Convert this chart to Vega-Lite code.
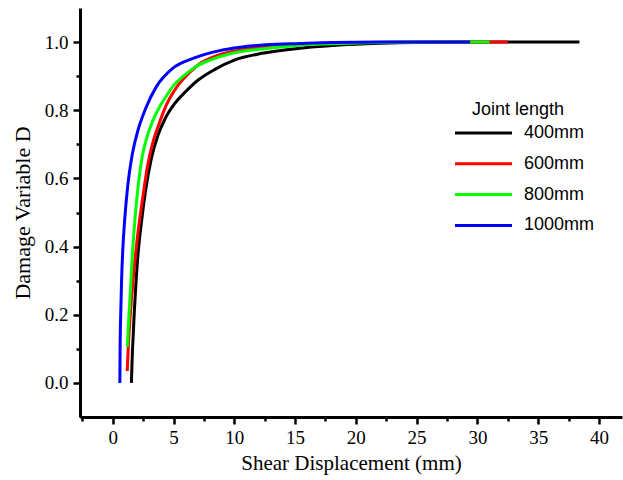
{
  "$schema": "https://vega.github.io/schema/vega-lite/v6.json",
  "width": 542,
  "height": 409,
  "autosize": "none",
  "padding": {"left": 80, "top": 8, "right": 1, "bottom": 63},
  "config": {
    "view": {"stroke": null},
    "font": "Liberation Serif",
    "axis": {
      "domainColor": "#000000", "domainWidth": 3,
      "tickColor": "#000000", "tickWidth": 2.5,
      "labelFont": "Liberation Serif", "labelFontSize": 19, "labelColor": "#000000",
      "titleFont": "Liberation Serif", "titleFontSize": 21, "titleFontWeight": "normal", "titleColor": "#000000",
      "grid": false
    }
  },
  "data": {"values": [
    {"s": "400mm", "x": 1.53, "d": 0},
    {"s": "400mm", "x": 1.60, "d": 0.08},
    {"s": "400mm", "x": 1.68, "d": 0.14},
    {"s": "400mm", "x": 1.77, "d": 0.21},
    {"s": "400mm", "x": 1.90, "d": 0.29},
    {"s": "400mm", "x": 2.08, "d": 0.38},
    {"s": "400mm", "x": 2.35, "d": 0.47},
    {"s": "400mm", "x": 2.70, "d": 0.565},
    {"s": "400mm", "x": 3.15, "d": 0.655},
    {"s": "400mm", "x": 3.70, "d": 0.725},
    {"s": "400mm", "x": 4.30, "d": 0.775},
    {"s": "400mm", "x": 5.10, "d": 0.82},
    {"s": "400mm", "x": 6.00, "d": 0.855},
    {"s": "400mm", "x": 7.00, "d": 0.888},
    {"s": "400mm", "x": 8.40, "d": 0.92},
    {"s": "400mm", "x": 10.0, "d": 0.947},
    {"s": "400mm", "x": 12.3, "d": 0.967},
    {"s": "400mm", "x": 15.4, "d": 0.982},
    {"s": "400mm", "x": 18.1, "d": 0.99},
    {"s": "400mm", "x": 20.8, "d": 0.995},
    {"s": "400mm", "x": 23.6, "d": 0.998},
    {"s": "400mm", "x": 27.0, "d": 0.9995},
    {"s": "400mm", "x": 30.0, "d": 1.0},
    {"s": "400mm", "x": 38.4, "d": 1.0},
    {"s": "600mm", "x": 1.19, "d": 0.035},
    {"s": "600mm", "x": 1.24, "d": 0.08},
    {"s": "600mm", "x": 1.31, "d": 0.13},
    {"s": "600mm", "x": 1.40, "d": 0.18},
    {"s": "600mm", "x": 1.52, "d": 0.24},
    {"s": "600mm", "x": 1.66, "d": 0.30},
    {"s": "600mm", "x": 1.85, "d": 0.37},
    {"s": "600mm", "x": 2.10, "d": 0.45},
    {"s": "600mm", "x": 2.45, "d": 0.54},
    {"s": "600mm", "x": 2.85, "d": 0.635},
    {"s": "600mm", "x": 3.25, "d": 0.70},
    {"s": "600mm", "x": 3.80, "d": 0.76},
    {"s": "600mm", "x": 4.40, "d": 0.815},
    {"s": "600mm", "x": 5.30, "d": 0.87},
    {"s": "600mm", "x": 6.30, "d": 0.91},
    {"s": "600mm", "x": 7.10, "d": 0.935},
    {"s": "600mm", "x": 8.80, "d": 0.963},
    {"s": "600mm", "x": 10.5, "d": 0.977},
    {"s": "600mm", "x": 12.6, "d": 0.987},
    {"s": "600mm", "x": 15.4, "d": 0.993},
    {"s": "600mm", "x": 18.1, "d": 0.997},
    {"s": "600mm", "x": 21.0, "d": 0.999},
    {"s": "600mm", "x": 25.0, "d": 1.0},
    {"s": "600mm", "x": 32.5, "d": 1.0},
    {"s": "800mm", "x": 1.20, "d": 0.105},
    {"s": "800mm", "x": 1.27, "d": 0.16},
    {"s": "800mm", "x": 1.35, "d": 0.21},
    {"s": "800mm", "x": 1.46, "d": 0.28},
    {"s": "800mm", "x": 1.60, "d": 0.37},
    {"s": "800mm", "x": 1.80, "d": 0.47},
    {"s": "800mm", "x": 2.06, "d": 0.57},
    {"s": "800mm", "x": 2.40, "d": 0.66},
    {"s": "800mm", "x": 2.80, "d": 0.72},
    {"s": "800mm", "x": 3.25, "d": 0.765},
    {"s": "800mm", "x": 3.85, "d": 0.81},
    {"s": "800mm", "x": 4.20, "d": 0.83},
    {"s": "800mm", "x": 5.00, "d": 0.873},
    {"s": "800mm", "x": 5.80, "d": 0.90},
    {"s": "800mm", "x": 6.70, "d": 0.925},
    {"s": "800mm", "x": 8.00, "d": 0.947},
    {"s": "800mm", "x": 9.90, "d": 0.968},
    {"s": "800mm", "x": 12.3, "d": 0.98},
    {"s": "800mm", "x": 15.4, "d": 0.991},
    {"s": "800mm", "x": 18.1, "d": 0.995},
    {"s": "800mm", "x": 20.8, "d": 0.998},
    {"s": "800mm", "x": 24.0, "d": 0.9995},
    {"s": "800mm", "x": 27.0, "d": 1.0},
    {"s": "800mm", "x": 31.0, "d": 1.0},
    {"s": "1000mm", "x": 0.58, "d": 0},
    {"s": "1000mm", "x": 0.60, "d": 0.10},
    {"s": "1000mm", "x": 0.65, "d": 0.20},
    {"s": "1000mm", "x": 0.72, "d": 0.30},
    {"s": "1000mm", "x": 0.82, "d": 0.39},
    {"s": "1000mm", "x": 0.98, "d": 0.48},
    {"s": "1000mm", "x": 1.22, "d": 0.575},
    {"s": "1000mm", "x": 1.60, "d": 0.67},
    {"s": "1000mm", "x": 2.10, "d": 0.745},
    {"s": "1000mm", "x": 2.70, "d": 0.805},
    {"s": "1000mm", "x": 3.60, "d": 0.87},
    {"s": "1000mm", "x": 4.90, "d": 0.922},
    {"s": "1000mm", "x": 6.60, "d": 0.952},
    {"s": "1000mm", "x": 8.80, "d": 0.975},
    {"s": "1000mm", "x": 10.5, "d": 0.985},
    {"s": "1000mm", "x": 12.6, "d": 0.992},
    {"s": "1000mm", "x": 15.4, "d": 0.996},
    {"s": "1000mm", "x": 18.1, "d": 0.999},
    {"s": "1000mm", "x": 22.0, "d": 1.0},
    {"s": "1000mm", "x": 29.4, "d": 1.0}
  ]},
  "layer": [
    {
      "mark": {"type": "line", "opacity": 0},
      "encoding": {
        "x": {"field": "x", "type": "quantitative",
          "scale": {"domain": [-2.7, 41.9], "nice": false, "zero": false},
          "axis": {"orient": "bottom", "values": [-2.5, 2.5, 7.5, 12.5, 17.5, 22.5, 27.5, 32.5, 37.5], "labels": false, "domain": false, "tickSize": 4, "title": null}},
        "y": {"field": "d", "type": "quantitative",
          "scale": {"domain": [-0.1, 1.1], "nice": false, "zero": false},
          "axis": {"orient": "left", "values": [0.1, 0.3, 0.5, 0.7, 0.9], "labels": false, "domain": false, "tickSize": 4, "title": null}}
      }
    },
    {
      "mark": {"type": "line", "strokeWidth": 3, "interpolate": "monotone"},
      "encoding": {
        "x": {"field": "x", "type": "quantitative",
          "scale": {"domain": [-2.7, 41.9], "nice": false, "zero": false},
          "axis": {"orient": "bottom", "values": [0, 5, 10, 15, 20, 25, 30, 35, 40], "format": "d", "tickSize": 7, "labelPadding": 4, "title": "Shear Displacement (mm)", "titlePadding": 5}},
        "y": {"field": "d", "type": "quantitative",
          "scale": {"domain": [-0.1, 1.1], "nice": false, "zero": false},
          "axis": {"orient": "left", "values": [0, 0.2, 0.4, 0.6, 0.8, 1.0], "format": ".1f", "tickSize": 7, "labelPadding": 5, "title": "Damage Variable D", "titleFontSize": 22, "titlePadding": 10}},
        "color": {"field": "s", "type": "nominal", "sort": ["400mm", "600mm", "800mm", "1000mm"],
          "scale": {"domain": ["400mm", "600mm", "800mm", "1000mm"], "range": ["#000000", "#ff0000", "#00ff00", "#0000ff"]},
          "legend": {
            "orient": "none", "legendX": 392, "legendY": 93, "padding": 0,
            "title": "Joint length", "titleFont": "Liberation Sans", "titleFontSize": 18, "titleFontWeight": "normal", "titleColor": "#000000", "titlePadding": 5,
            "labelFont": "Liberation Sans", "labelFontSize": 18, "labelColor": "#000000", "labelOffset": 34,
            "symbolType": "M-5.2,0H6.2", "symbolSize": 100, "symbolStrokeWidth": 3, "rowPadding": 12.8
          }}
      }
    }
  ],
  "resolve": {"axis": {"x": "independent", "y": "independent"}}
}
